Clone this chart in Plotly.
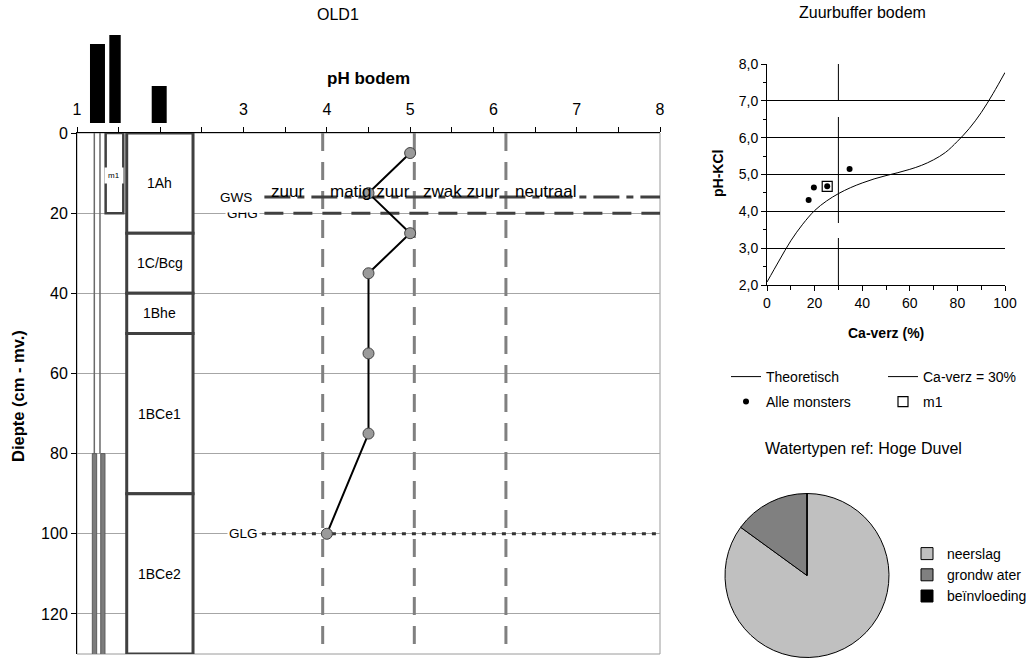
import plotly.graph_objects as go

W, H = 1029, 658
FONT = "Liberation Sans, Arial, sans-serif"


def fx(px):
    return px / W


def fy(py):
    return 1 - py / H


# ---------------- soil profile OLD1 ----------------
sample_depth = [5, 15, 25, 35, 55, 75, 100]
sample_ph = [5.0, 4.5, 5.0, 4.5, 4.5, 4.5, 4.0]

horizon_names = ["1Ah", "1C/Bcg", "1Bhe", "1BCe1", "1BCe2"]
horizon_top = [0, 25, 40, 50, 90]
horizon_bottom = [25, 40, 50, 90, 130]

mixed_sample_name = "m1"
mixed_sample_top = 0
mixed_sample_bottom = 20

pipe_filter_top = 80
profile_bottom = 130

gws_depth = 16
ghg_depth = 20
glg_depth = 100

class_bounds = [3.95, 5.05, 6.15]
class_names = ["zuur", "matig zuur", "zwak zuur", "neutraal"]
class_label_ph = [3.53, 4.52, 5.62, 6.62]

ph_tickvals = [1, 3, 4, 5, 6, 7, 8]
depth_tickvals = [0, 20, 40, 60, 80, 100, 120]

# column positions along the pH axis
pipe_x = [1.208, 1.276]
filter_x = [(1.184, 1.236), (1.285, 1.336)]
mixed_x = (1.344, 1.556)
horizon_x = (1.597, 2.393)
# black header blocks above the columns: (x0, x1, top in px)
header_blocks = [(1.156, 1.336, 44), (1.388, 1.525, 35), (1.897, 2.077, 86)]
header_bottom_px = 123

# ---------------- acid buffer ----------------
ca_theory = [0, 5, 10, 15, 20, 25, 30, 35, 40, 45, 50, 55, 60, 65, 70, 75, 80, 85, 90, 95, 100]
ph_theory = [2.08, 2.65, 3.2, 3.65, 4.02, 4.28, 4.48, 4.64, 4.77, 4.88, 4.97,
             5.05, 5.14, 5.25, 5.4, 5.6, 5.9, 6.25, 6.68, 7.2, 7.77]
ca_samples = [17.5, 19.7, 25.3, 34.7]
ph_samples = [4.31, 4.65, 4.68, 5.15]
ca_m1 = [25.3]
ph_m1 = [4.68]
ca_limit = 30

# ---------------- water types ----------------
water_types = ["neerslag", "grondw ater", "beïnvloeding"]
water_share = [85, 15, 0]
water_colors = ["#C0C0C0", "#808080", "#000000"]

fig = go.Figure()

# pH profile
fig.add_trace(go.Scatter(
    x=sample_ph, y=sample_depth, mode="lines+markers",
    line=dict(color="black", width=2),
    marker=dict(size=11, color="#9a9a9a", line=dict(color="#404040", width=1)),
    xaxis="x", yaxis="y", showlegend=False, hoverinfo="skip"))

# acid buffer chart
fig.add_trace(go.Scatter(
    x=ca_theory, y=ph_theory, mode="lines", name="Theoretisch",
    line=dict(color="black", width=1, shape="spline"),
    xaxis="x2", yaxis="y2", legend="legend"))
fig.add_trace(go.Scatter(
    x=[ca_limit, ca_limit], y=[2, 8], mode="lines", name="Ca-verz = 30%",
    line=dict(color="black", width=1, dash="47px,15px,106px,17px,40px"),
    xaxis="x2", yaxis="y2", legend="legend"))
fig.add_trace(go.Scatter(
    x=ca_samples, y=ph_samples, mode="markers", name="Alle monsters",
    marker=dict(size=6, color="black"),
    xaxis="x2", yaxis="y2", legend="legend3"))
fig.add_trace(go.Scatter(
    x=ca_m1, y=ph_m1, mode="markers", name="m1",
    marker=dict(size=10, symbol="square-open", color="black", line=dict(width=1.2)),
    xaxis="x2", yaxis="y2", legend="legend3"))

# water type pie
fig.add_trace(go.Pie(
    labels=water_types, values=water_share, sort=False, direction="clockwise",
    rotation=0, textinfo="none", hoverinfo="label+percent",
    marker=dict(colors=water_colors, line=dict(color="black", width=1)),
    domain=dict(x=[fx(725), fx(889)], y=[fy(658), fy(493)]),
    legend="legend2", showlegend=True))

shapes = []

# plot area frame
shapes.append(dict(type="rect", xref="x domain", yref="y domain", x0=0, x1=1, y0=0, y1=1,
                   line=dict(color="#9a9a9a", width=1), layer="below"))

# class boundaries
for b in class_bounds:
    shapes.append(dict(type="line", xref="x", yref="y", x0=b, x1=b, y0=0, y1=profile_bottom,
                       line=dict(color="#808080", width=3, dash="18px,11px"), layer="between"))

# groundwater levels
shapes.append(dict(type="line", xref="x", yref="y", x0=3.25, x1=8, y0=ghg_depth, y1=ghg_depth,
                   line=dict(color="#404040", width=3, dash="19px,10px"), layer="between"))
shapes.append(dict(type="line", xref="x", yref="y", x0=3.25, x1=8, y0=gws_depth, y1=gws_depth,
                   line=dict(color="#404040", width=3, dash="26px,7px,7px,7px"), layer="between"))
shapes.append(dict(type="line", xref="x", yref="y", x0=3.22, x1=8, y0=glg_depth, y1=glg_depth,
                   line=dict(color="#333333", width=3, dash="4px,6px"), layer="between"))

# piezometer pipe and filter
for px_ in pipe_x:
    shapes.append(dict(type="line", xref="x", yref="y", x0=px_, x1=px_, y0=0, y1=pipe_filter_top,
                       line=dict(color="#6a6a6a", width=1.5), layer="between"))
for x0, x1 in filter_x:
    shapes.append(dict(type="rect", xref="x", yref="y", x0=x0, x1=x1,
                       y0=pipe_filter_top, y1=profile_bottom + 1,
                       fillcolor="#7c7c7c", line=dict(color="#5c5c5c", width=1), layer="between"))

# mixed sample box
shapes.append(dict(type="rect", xref="x", yref="y", x0=mixed_x[0], x1=mixed_x[1],
                   y0=mixed_sample_top, y1=mixed_sample_bottom,
                   fillcolor="white", line=dict(color="#404040", width=2.5), layer="between"))

# soil horizons
for t, b in zip(horizon_top, horizon_bottom):
    shapes.append(dict(type="rect", xref="x", yref="y", x0=horizon_x[0], x1=horizon_x[1],
                       y0=t, y1=b, fillcolor="white",
                       line=dict(color="#404040", width=3), layer="between"))

# black header blocks
for x0, x1, top in header_blocks:
    shapes.append(dict(type="rect", xref="x", yref="paper", x0=x0, x1=x1,
                       y0=fy(header_bottom_px), y1=fy(top),
                       fillcolor="black", line=dict(width=0), layer="above"))

annotations = []


def label(x, y, text, size, xref="paper", yref="paper", **kw):
    d = dict(x=x, y=y, xref=xref, yref=yref, text=text, showarrow=False,
             xanchor=kw.pop("xanchor", "center"), yanchor=kw.pop("yanchor", "middle"),
             font=dict(size=size, color="black"))
    d.update(kw)
    annotations.append(d)


for name, t, b in zip(horizon_names, horizon_top, horizon_bottom):
    label(sum(horizon_x) / 2, (t + b) / 2, name, 14, xref="x", yref="y")

label(sum(mixed_x) / 2, 10.5, mixed_sample_name, 8, xref="x", yref="y",
      bgcolor="white", borderpad=3)

for name, xp in zip(class_names, class_label_ph):
    label(xp, 14.7, name, 17, xref="x", yref="y")

label(3.2, ghg_depth, "GHG", 13.5, xref="x", yref="y", xanchor="right",
      bgcolor="white", borderpad=1)
label(3.2, gws_depth, "GWS", 13.5, xref="x", yref="y", xanchor="right",
      bgcolor="white", borderpad=7)
label(3.2, glg_depth, "GLG", 13.5, xref="x", yref="y", xanchor="right",
      bgcolor="white", borderpad=1)

# titles
label(fx(338), fy(14), "OLD1", 16)
label(fx(368), fy(78), "<b>pH bodem</b>", 17)
label(fx(18), fy(396), "<b>Diepte (cm - mv.)</b>", 16.5, textangle=-90)
label(fx(862), fy(13), "Zuurbuffer bodem", 16)
label(fx(886), fy(333), "<b>Ca-verz (%)</b>", 14)
label(fx(718), fy(174), "<b>pH-KCl</b>", 14, textangle=-90)
label(fx(863), fy(448), "Watertypen ref: Hoge Duvel", 16)

legend_row = dict(orientation="h", xanchor="left", yanchor="top",
                  entrywidth=112, entrywidthmode="pixels", font=dict(size=14),
                  bgcolor="rgba(0,0,0,0)", traceorder="normal")

fig.update_layout(
    width=W, height=H, margin=dict(l=0, r=0, t=0, b=0, autoexpand=False),
    paper_bgcolor="white", plot_bgcolor="white",
    font=dict(family=FONT, color="black"),
    separators=", ",
    xaxis=dict(domain=[fx(77), fx(660)], range=[1, 8], side="top", anchor="y",
               tickvals=ph_tickvals, ticks="outside", ticklen=5, tickcolor="black",
               minor=dict(dtick=0.5, ticks="outside", ticklen=5, tickcolor="black", showgrid=False),
               showline=True, linecolor="black", linewidth=1, showgrid=False, zeroline=False,
               tickfont=dict(size=16), ticklabelstandoff=6, fixedrange=True,
               automargin=False),
    yaxis=dict(domain=[fy(654), fy(133)], range=[profile_bottom, 0], anchor="x",
               tickvals=depth_tickvals, ticks="outside", ticklen=5, tickcolor="black",
               showline=True, linecolor="black", linewidth=1,
               showgrid=True, gridcolor="#a6a6a6", gridwidth=1, zeroline=False,
               tickfont=dict(size=16), fixedrange=True, automargin=False),
    xaxis2=dict(domain=[fx(767), fx(1005)], range=[0, 100], anchor="y2",
                dtick=20, ticks="outside", ticklen=5, tickcolor="black",
                minor=dict(dtick=10, ticks="outside", ticklen=4, tickcolor="black", showgrid=False),
                showline=True, linecolor="black", linewidth=1, showgrid=False, zeroline=False,
                tickfont=dict(size=14), fixedrange=True, automargin=False),
    yaxis2=dict(domain=[fy(285), fy(64)], range=[2, 8], anchor="x2",
                dtick=1, tickformat=".1f", ticks="outside", ticklen=5, tickcolor="black",
                minor=dict(dtick=0.5, ticks="outside", ticklen=3, tickcolor="black", showgrid=False),
                showline=True, linecolor="black", linewidth=1,
                showgrid=True, gridcolor="black", gridwidth=1, zeroline=False,
                tickfont=dict(size=14), fixedrange=True, automargin=False),
    legend=dict(legend_row, x=fx(726), y=fy(361)),
    legend3=dict(legend_row, x=fx(726), y=fy(386)),
    legend2=dict(x=fx(907), y=fy(538), xanchor="left", yanchor="top",
                 font=dict(size=14), bgcolor="rgba(0,0,0,0)"),
    shapes=shapes,
    annotations=annotations,
    hovermode="closest",
)

fig.write_html("out.html")
